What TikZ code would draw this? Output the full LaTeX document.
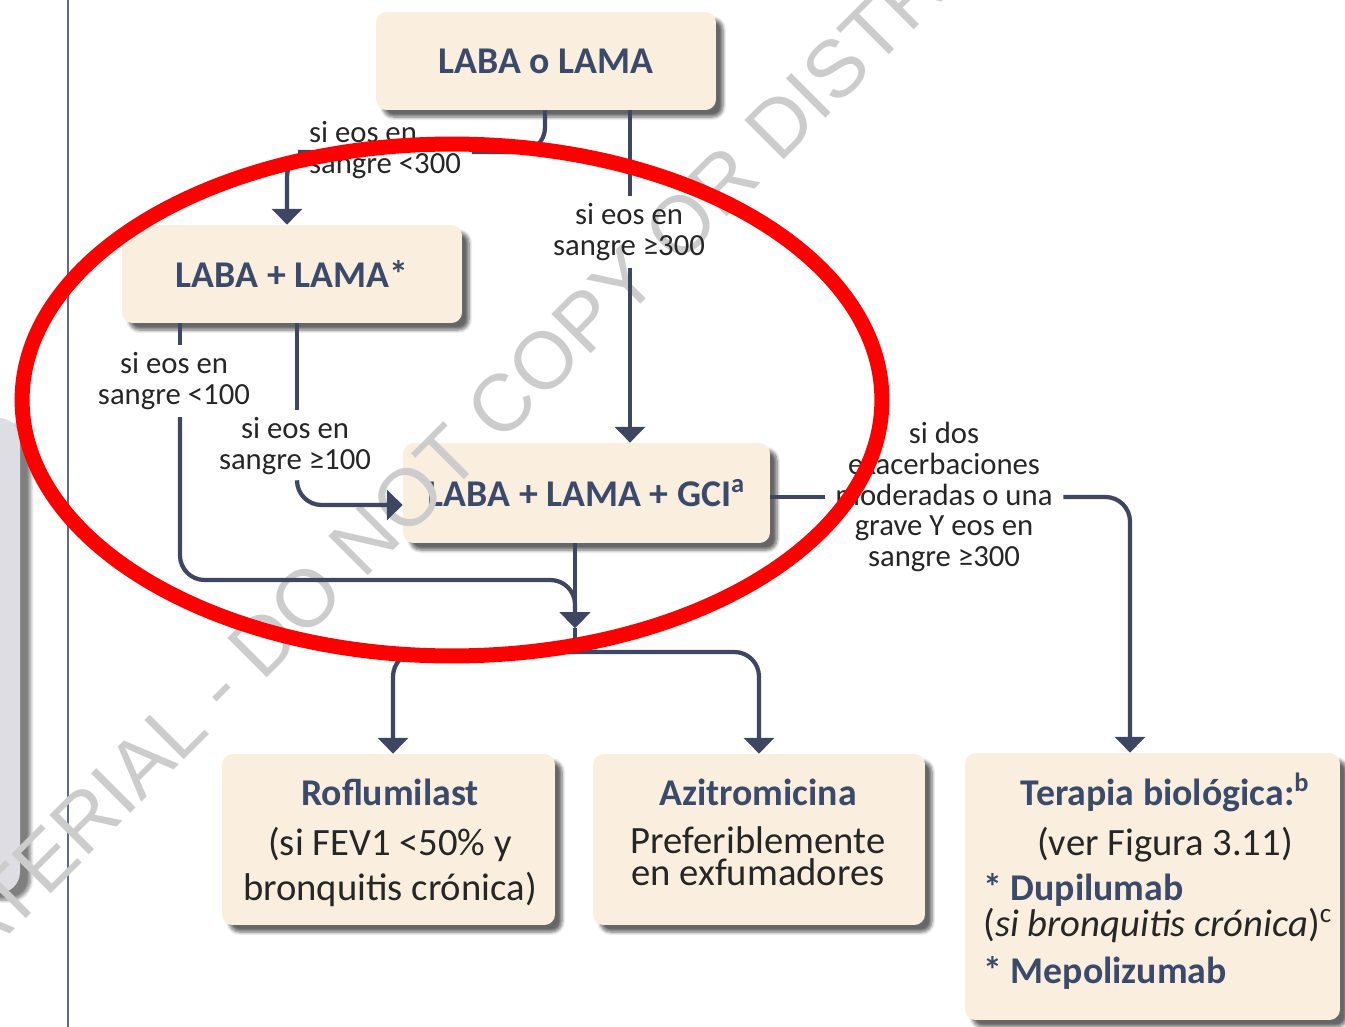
\documentclass[tikz,border=0pt]{standalone}
\usepackage{fontspec}
\setmainfont{Carlito}
\newfontfamily\wmfont{Liberation Sans}
\usetikzlibrary{arrows.meta,shadows.blur}

\definecolor{boxfill}{RGB}{250,239,222}
\definecolor{navy}{RGB}{61,70,99}
\definecolor{titletext}{RGB}{59,74,107}
\definecolor{bodytext}{RGB}{38,38,38}
\definecolor{rulegray}{RGB}{95,106,133}
\definecolor{panelgray}{RGB}{221,221,227}

\newcommand\boxhead[1]{{\color{titletext}\fontsize{21.5}{26}\selectfont\bfseries #1}}

\tikzset{
  box/.style={rounded corners=6pt, fill=boxfill, inner sep=0pt,
    blur shadow={shadow xshift=4pt, shadow yshift=-4pt, shadow blur steps=6, shadow opacity=60}},
  link/.style={draw=navy, line width=2.4pt, rounded corners=14pt},
  arrowto/.style={-{Triangle[width=17pt,length=9pt]}},
  lbl/.style={text=bodytext, font=\fontsize{17.5}{17.6}\selectfont, align=center, inner xsep=6pt, inner ysep=4pt},
  ttl/.style={text=titletext, font=\fontsize{21.5}{24}\selectfont\bfseries},
  body/.style={text=bodytext, font=\fontsize{22}{26}\selectfont},
}

\begin{document}
\begin{tikzpicture}[x=0.02cm,y=-0.02cm]
    \useasboundingbox (0,0) rectangle (1345,1027);
    % left margin
    \fill[panelgray, rounded corners=12pt, blur shadow={shadow xshift=6pt, shadow yshift=-4pt, shadow blur steps=8, shadow opacity=50}] (-40,418) rectangle (20,893);
    \draw[rulegray, line width=1.2pt] (68,0) -- (68,1027);

    % boxes
    \node[box, ttl, minimum width=6.8cm, minimum height=1.96cm] (lamaone) at (546,61) {LABA o LAMA};
    \node[box, ttl, minimum width=6.8cm, minimum height=1.96cm] (dual) at (292,274) {LABA + LAMA*};
    \node[box, ttl, minimum width=7.34cm, minimum height=2cm] (triple) at (586.5,493) {LABA + LAMA + GCI\textsuperscript{a}};
    \node[box, minimum width=6.66cm, minimum height=3.42cm] (roflu) at (388.5,839.5) {};
    \node[box, minimum width=6.64cm, minimum height=3.42cm] (azitro) at (759,839.5) {};
    \node[box, minimum width=7.5cm, minimum height=5.34cm] (biol) at (1152.5,886.5) {};

    % watermark
    \node[text=gray!40, font=\wmfont\fontsize{46}{46}\selectfont, rotate=45] (wmark) at (505,400) {MATERIAL - DO NOT COPY OR DISTRIBUTE};

    % box texts
    \node[anchor=base] (roflua) at (390,805) {\boxhead{Roflumilast}};
    \node[body, anchor=base] (roflub) at (390,855) {(si FEV1 <50\% y};
    \node[body, anchor=base] (rofluc) at (390,900) {bronquitis crónica)};
    \node[anchor=base] (azitroa) at (758,805) {\boxhead{Azitromicina}};
    \node[body, anchor=base] (azitrob) at (758,853) {Preferiblemente};
    \node[body, anchor=base] (azitroc) at (758,885) {en exfumadores};
    \node[anchor=base] (biohead) at (1165,805) {\boxhead{Terapia biológica:\textsuperscript{b}}};
    \node[body, anchor=base] (biosee) at (1165,855) {(ver Figura 3.11)};
    \node[anchor=base west, inner xsep=0pt] (biodup) at (983,900) {\boxhead{* Dupilumab}};
    \node[body, anchor=base west, inner xsep=0pt] (biocron) at (983,936) {(\textit{si bronquitis crónica})\textsuperscript{c}};
    \node[anchor=base west, inner xsep=0pt] (biomep) at (983,983) {\boxhead{* Mepolizumab}};

    % labels
    \node[lbl, align=left] (lt300) at (385,150) {si eos en\\sangre <300};
    \node[lbl] (ge300) at (629,232) {si eos en\\sangre ≥300};
    \node[lbl] (lt100) at (174,381) {si eos en\\sangre <100};
    \node[lbl] (ge100) at (295,446) {si eos en\\sangre ≥100};
    \node[lbl] (exac) at (944,497) {si dos\\exacerbaciones\\moderadas o una\\grave Y eos en\\sangre ≥300};

    % connectors
    \coordinate (k1) at (545,152);
    \coordinate (k2) at (287,152);
    \coordinate (k3) at (630,232);
    \coordinate (k4) at (180,580);
    \coordinate (k6) at (297,505);
    \coordinate (k7) at (1130,497);
    \coordinate (merge) at (575,628);
    \coordinate (split) at (575,652);
    \draw[link] (lamaone.south -| k1) |- (lt300.east |- k1);
    \draw[link,arrowto] (lt300.west |- k2) -| (dual.north -| k2);
    \draw[link] (lamaone.south -| k3) -- (ge300.north -| k3);
    \draw[link,arrowto] (ge300.south -| k3) -- (triple.north -| k3);
    \draw[link] (dual.south -| k4) -- (lt100.north -| k4);
    \draw[link,arrowto] (lt100.south -| k4) |- (k4 -| merge) -- (merge);
    \draw[link] (dual.south -| k6) -- (ge100.north -| k6);
    \draw[link,arrowto] (ge100.south -| k6) |- (triple.west |- k6);
    \draw[link,arrowto] (triple.south -| merge) -- (merge);
    \draw[link] (merge) -- (split);
    \draw[link,{Triangle[width=17pt,length=9pt]}-{Triangle[width=17pt,length=9pt]}] (roflu.north -| 393,0) |- (split) -| (azitro.north);
    \draw[link] (triple.east |- k7) -- (exac.west |- k7);
    \draw[link,arrowto] (exac.east |- k7) -| (biol.north -| k7);

    % mark
    \draw[red, line width=0.3cm] (452,400) ellipse [x radius=8.6cm, y radius=5.12cm];
\end{tikzpicture}
\end{document}
